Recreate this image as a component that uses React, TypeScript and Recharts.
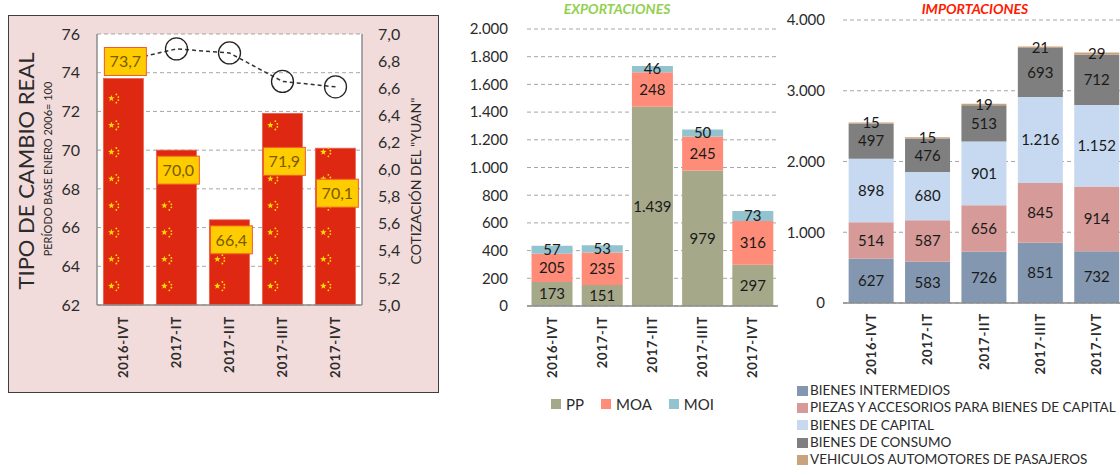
import React from "react";
import {
  Bar,
  BarChart,
  CartesianGrid,
  ComposedChart,
  LabelList,
  Line,
  XAxis,
  YAxis,
} from "recharts";

const quarters = ["2016-IVT", "2017-IT", "2017-IIT", "2017-IIIT", "2017-IVT"];

// tipo de cambio real (base ene 2006 = 100) y cotización del yuan
const tcrIndex = [73.7, 70.0, 66.4, 71.9, 70.1];
const yuanRate = [6.8, 6.89, 6.86, 6.65, 6.61];
const tcrTicks = [62, 64, 66, 68, 70, 72, 74, 76];
const yuanTicks = [5.0, 5.2, 5.4, 5.6, 5.8, 6.0, 6.2, 6.4, 6.6, 6.8, 7.0];

// exportaciones (millones US$)
const expPP = [173, 151, 1439, 979, 297];
const expMOA = [205, 235, 248, 245, 316];
const expMOI = [57, 53, 46, 50, 73];
const expTicks = [0, 200, 400, 600, 800, 1000, 1200, 1400, 1600, 1800, 2000];

// importaciones (millones US$)
const impIntermedios = [627, 583, 726, 851, 732];
const impPiezas = [514, 587, 656, 845, 914];
const impCapital = [898, 680, 901, 1216, 1152];
const impConsumo = [497, 476, 513, 693, 712];
const impVehiculos = [15, 15, 19, 21, 29];
const impTicks = [0, 1000, 2000, 3000, 4000];

const expSeries = [
  { key: "pp", name: "PP", color: "#A5A98A" },
  { key: "moa", name: "MOA", color: "#FF8C78" },
  { key: "moi", name: "MOI", color: "#93C3CF" },
];

const impSeries = [
  { key: "bi", name: "BIENES INTERMEDIOS", color: "#8497B0" },
  { key: "piezas", name: "PIEZAS Y ACCESORIOS PARA BIENES DE CAPITAL", color: "#D69A98" },
  { key: "bk", name: "BIENES DE CAPITAL", color: "#C6D9F1" },
  { key: "bc", name: "BIENES DE CONSUMO", color: "#7F7F7F" },
  { key: "veh", name: "VEHICULOS AUTOMOTORES DE PASAJEROS", color: "#C9A27E" },
];

// manual placement of the yellow value boxes, relative to each bar top
const tcrLabelShift = [-17, 20, 20, 48, 45];

const FONT = "Lato, 'Open Sans', sans-serif";
const TEXT = "#2b2b2b";

const tcrData = quarters.map((q, i) => ({ q, tcr: tcrIndex[i], yuan: yuanRate[i] }));
const expData = quarters.map((q, i) => ({ q, pp: expPP[i], moa: expMOA[i], moi: expMOI[i] }));
const impData = quarters.map((q, i) => ({
  q,
  bi: impIntermedios[i],
  piezas: impPiezas[i],
  bk: impCapital[i],
  bc: impConsumo[i],
  veh: impVehiculos[i],
}));

const comma1 = (v: number) => v.toFixed(1).replace(".", ",");
const thousands = (v: number) => String(Math.round(v)).replace(/\B(?=(\d{3})+(?!\d))/g, ".");

const RotatedTick = (props: any) => {
  const { x, y, payload, gap } = props;
  const ty = y + gap;
  return (
    <text
      x={x}
      y={ty}
      transform={`rotate(-90 ${x} ${ty})`}
      textAnchor="end"
      dy="0.35em"
      fontSize={13}
      fontWeight="bold"
      fill={TEXT}
      fontFamily={FONT}
      letterSpacing={0.8}
    >
      {payload.value}
    </text>
  );
};

const starPoints = (cx: number, cy: number, ro: number, ri: number) => {
  const pts: string[] = [];
  for (let k = 0; k < 10; k++) {
    const r = k % 2 === 0 ? ro : ri;
    const a = -Math.PI / 2 + (k * Math.PI) / 5;
    pts.push(`${cx + r * Math.cos(a)},${cy + r * Math.sin(a)}`);
  }
  return pts.join(" ");
};

// red bar with the little chinese-flag stars
const FlagBar = (props: any) => {
  const { x, y, width, height } = props;
  if (!height || height <= 0) return null;
  const bottom = y + height;
  const rows: number[] = [];
  for (let cy = bottom - 19; cy > y + 2; cy -= 26.8) rows.push(cy);
  return (
    <g>
      <rect x={x} y={y} width={width} height={height} fill="#DE2812" stroke="#E8604C" strokeWidth={0.8} />
      {rows.map((cy) => (
        <g key={cy} fill="#FFDE00">
          <polygon points={starPoints(x + 8, cy, 3.4, 1.4)} />
          <circle cx={x + 13} cy={cy - 4} r={0.9} />
          <circle cx={x + 15} cy={cy - 1.3} r={0.9} />
          <circle cx={x + 15} cy={cy + 1.7} r={0.9} />
          <circle cx={x + 13} cy={cy + 4.3} r={0.9} />
        </g>
      ))}
    </g>
  );
};

const TcrLabel = (props: any) => {
  const { x, y, width, value, index } = props;
  const i = typeof index === "number" ? index : tcrIndex.indexOf(value);
  const cx = x + width / 2 + 2;
  const cy = y + (tcrLabelShift[i] ?? 0);
  return (
    <g>
      <rect x={cx - 21} y={cy - 14} width={42} height={28} fill="#FFCC00" stroke="#F0582E" strokeWidth={1} />
      <text x={cx} y={cy} dy="0.36em" textAnchor="middle" fontSize={16} fill="#7A5A00" fontFamily={FONT}>
        {comma1(value)}
      </text>
    </g>
  );
};

const segLabel = { fill: "#1a1a1a", fontSize: 15, fontFamily: FONT };
const axisTick = { fill: TEXT, fontSize: 15, fontFamily: FONT };

function TcrChart() {
  return (
    <ComposedChart
      width={431}
      height={378}
      data={tcrData}
      margin={{ top: 19, right: 0, bottom: 0, left: 0 }}
      barCategoryGap="12%"
    >
      <CartesianGrid yAxisId="l" vertical={false} stroke="#A6A6A6" strokeDasharray="4 3" fill="#FFFFFF" />
      <XAxis
        dataKey="q"
        height={88}
        tickSize={0}
        tickMargin={0}
        axisLine={{ stroke: "#8C8C8C", strokeWidth: 1.5 }}
        tick={(p: any) => <RotatedTick {...p} gap={11} />}
        interval={0}
      />
      <YAxis
        yAxisId="l"
        width={89}
        domain={[62, 76]}
        ticks={tcrTicks}
        tickSize={0}
        tickMargin={17}
        axisLine={{ stroke: "#8C8C8C", strokeWidth: 1.5 }}
        tick={{ ...axisTick, fontSize: 16 }}
      />
      <YAxis
        yAxisId="r"
        orientation="right"
        width={77}
        domain={[5, 7]}
        ticks={yuanTicks}
        tickSize={0}
        tickMargin={16}
        axisLine={{ stroke: "#8C8C8C", strokeWidth: 1.5 }}
        tick={{ ...axisTick, fontSize: 16 }}
        tickFormatter={comma1}
      />
      <Line
        yAxisId="r"
        type="linear"
        dataKey="yuan"
        stroke="#333333"
        strokeWidth={1.5}
        strokeDasharray="4 3"
        dot={{ r: 11, fill: "none", stroke: "#222222", strokeWidth: 1.3, strokeDasharray: "none" }}
        isAnimationActive={false}
      />
      <Bar yAxisId="l" dataKey="tcr" shape={FlagBar} isAnimationActive={false}>
        <LabelList dataKey="tcr" content={TcrLabel} />
      </Bar>
    </ComposedChart>
  );
}

function ExportChart() {
  return (
    <BarChart
      width={330}
      height={468}
      data={expData}
      margin={{ top: 29, right: 12, bottom: 82, left: 0 }}
      barCategoryGap="9%"
    >
      <CartesianGrid vertical={false} stroke="#A6A6A6" strokeDasharray="4 3" />
      <XAxis
        dataKey="q"
        height={80}
        tickSize={0}
        tickMargin={0}
        axisLine={{ stroke: "#8C8C8C", strokeWidth: 1.5 }}
        tick={(p: any) => <RotatedTick {...p} gap={10} />}
        interval={0}
      />
      <YAxis
        width={67}
        domain={[0, 2000]}
        ticks={expTicks}
        tickSize={0}
        tickMargin={19}
        axisLine={false}
        tick={axisTick}
        tickFormatter={thousands}
      />
      {expSeries.map((s) => (
        <Bar key={s.key} dataKey={s.key} stackId="exp" fill={s.color} isAnimationActive={false}>
          <LabelList dataKey={s.key} position="center" formatter={(v: any) => thousands(v)} style={segLabel} />
        </Bar>
      ))}
    </BarChart>
  );
}

function ImportChart() {
  return (
    <BarChart
      width={360}
      height={468}
      data={impData}
      margin={{ top: 20, right: 15, bottom: 85, left: 0 }}
      barCategoryGap="10%"
    >
      <CartesianGrid vertical={false} stroke="#A6A6A6" strokeDasharray="4 3" />
      <XAxis
        dataKey="q"
        height={80}
        tickSize={0}
        tickMargin={0}
        axisLine={{ stroke: "#8C8C8C", strokeWidth: 1.5 }}
        tick={(p: any) => <RotatedTick {...p} gap={10} />}
        interval={0}
      />
      <YAxis
        width={63}
        domain={[0, 4000]}
        ticks={impTicks}
        tickSize={0}
        tickMargin={18}
        axisLine={false}
        tick={axisTick}
        tickFormatter={thousands}
      />
      {impSeries.map((s) => (
        <Bar key={s.key} dataKey={s.key} stackId="imp" fill={s.color} isAnimationActive={false}>
          <LabelList dataKey={s.key} position="center" formatter={(v: any) => thousands(v)} style={segLabel} />
        </Bar>
      ))}
    </BarChart>
  );
}

const swatch = (color: string, w: number, h: number): React.CSSProperties => ({
  display: "inline-block",
  width: w,
  height: h,
  background: color,
});

export default function App() {
  return (
    <div
      style={{
        position: "absolute",
        left: 0,
        top: 0,
        width: 1120,
        height: 468,
        overflow: "hidden",
        background: "#FFFFFF",
        fontFamily: FONT,
        color: TEXT,
      }}
    >
      <div
        style={{
          position: "absolute",
          left: 8,
          top: 15,
          width: 431,
          height: 378,
          background: "#F2DCDB",
          border: "1.5px solid #3F3F3F",
          boxSizing: "border-box",
        }}
      />
      <div style={{ position: "absolute", left: 8, top: 15 }}>
        <TcrChart />
      </div>
      <div style={{ position: "absolute", left: 460, top: 0 }}>
        <ExportChart />
      </div>
      <div style={{ position: "absolute", left: 780, top: 0 }}>
        <ImportChart />
      </div>

      <svg
        width={1120}
        height={468}
        style={{ position: "absolute", left: 0, top: 0, pointerEvents: "none" }}
        fontFamily={FONT}
      >
        <text x={34} y={171} transform="rotate(-90 34 171)" textAnchor="middle" fontSize={22} fill={TEXT}>
          TIPO DE CAMBIO REAL
        </text>
        <text x={52} y={169} transform="rotate(-90 52 169)" textAnchor="middle" fontSize={11} fill={TEXT}>
          PERÍODO BASE ENERO 2006= 100
        </text>
        <text x={421} y={181} transform="rotate(-90 421 181)" textAnchor="middle" fontSize={14} fill={TEXT}>
          COTIZACIÓN DEL "YUAN"
        </text>
        <text x={617} y={14} textAnchor="middle" fontSize={14} fontWeight="bold" fontStyle="italic" fill="#92D050">
          EXPORTACIONES
        </text>
        <text x={975} y={14} textAnchor="middle" fontSize={14} fontWeight="bold" fontStyle="italic" fill="#FF1A00">
          IMPORTACIONES
        </text>
      </svg>

      <div
        style={{
          position: "absolute",
          left: 551,
          top: 395,
          display: "flex",
          alignItems: "center",
          fontSize: 15,
          lineHeight: "18px",
        }}
      >
        {expSeries.map((s) => (
          <span key={s.key} style={{ display: "flex", alignItems: "center", marginRight: 17 }}>
            <span style={{ ...swatch(s.color, 10, 10), marginRight: 5 }} />
            {s.name}
          </span>
        ))}
      </div>

      <div style={{ position: "absolute", left: 797, top: 382, fontSize: 13.5, lineHeight: "17.3px" }}>
        {impSeries.map((s) => (
          <div key={s.key} style={{ display: "flex", alignItems: "center", whiteSpace: "nowrap" }}>
            <span style={{ ...swatch(s.color, 11, 10), marginRight: 2 }} />
            {s.name}
          </div>
        ))}
      </div>
    </div>
  );
}
